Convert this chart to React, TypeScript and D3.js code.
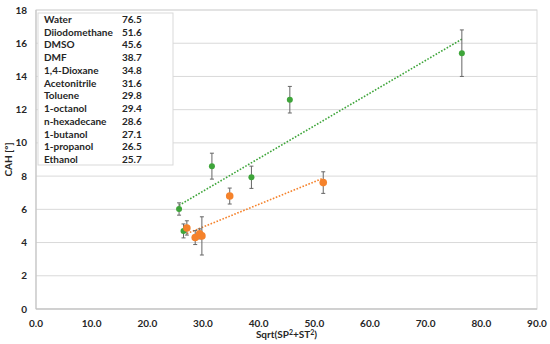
import React from "react";
import { scaleLinear, line, mean, sum } from "d3";

// legend table
const solvents = ["Water", "Diiodomethane", "DMSO", "DMF", "1,4-Dioxane", "Acetonitrile", "Toluene", "1-octanol", "n-hexadecane", "1-butanol", "1-propanol", "Ethanol"];
const solventValues = [76.5, 51.6, 45.6, 38.7, 34.8, 31.6, 29.8, 29.4, 28.6, 27.1, 26.5, 25.7];

// green series
const greenX = [76.5, 45.6, 38.7, 31.6, 25.7, 26.5];
const greenY = [15.4, 12.6, 7.93, 8.6, 6.02, 4.7];
const greenErr = [1.4, 0.8, 0.67, 0.78, 0.37, 0.42];

// orange series
const orangeX = [51.6, 34.8, 27.1, 28.6, 29.4, 29.8];
const orangeY = [7.61, 6.8, 4.88, 4.3, 4.52, 4.4];
const orangeErr = [0.65, 0.48, 0.43, 0.42, 0.3, 1.15];

const xTicks = [0, 10, 20, 30, 40, 50, 60, 70, 80, 90];
const yTicks = [0, 2, 4, 6, 8, 10, 12, 14, 16, 18];

const W = 550;
const H = 344;
const margin = { top: 10, right: 13, bottom: 35, left: 36 };

const GREEN = "#3ea53a";
const ORANGE = "#f5822b";
const TEXT = "#262626";
const FONT = "Lato, 'Open Sans', sans-serif";

function fit(xs: number[], ys: number[]) {
  const mx = mean(xs) ?? 0;
  const my = mean(ys) ?? 0;
  const sxy = sum(xs, (x, i) => (x - mx) * (ys[i] - my));
  const sxx = sum(xs, (x) => (x - mx) * (x - mx));
  const slope = sxy / sxx;
  const x0 = Math.min(...xs);
  const x1 = Math.max(...xs);
  return [
    [x0, my + slope * (x0 - mx)],
    [x1, my + slope * (x1 - mx)],
  ] as [number, number][];
}

export default function App() {
  const x = scaleLinear().domain([0, 90]).range([margin.left, W - margin.right]);
  const y = scaleLinear().domain([0, 18]).range([H - margin.bottom, margin.top]);
  const path = line<[number, number]>()
    .x((d) => x(d[0]))
    .y((d) => y(d[1]));

  const series = [
    { xs: greenX, ys: greenY, errs: greenErr, color: GREEN, r: 3 },
    { xs: orangeX, ys: orangeY, errs: orangeErr, color: ORANGE, r: 3.8 },
  ];

  const rowH = 12.73;
  const legendTop = 13;
  const fs = 10;

  return (
    <svg width={W} height={H} style={{ position: "absolute", left: 0, top: 0, background: "#fff" }} fontFamily={FONT}>
      {/* gridlines */}
      {yTicks.map((t) => (
        <line key={t} x1={x(0)} x2={x(90)} y1={y(t)} y2={y(t)} stroke="#d9d9d9" strokeWidth={1} />
      ))}
      {/* plot border */}
      <rect x={x(0)} y={y(18)} width={x(90) - x(0)} height={y(0) - y(18)} fill="none" stroke="#d9d9d9" />
      <line x1={x(0)} x2={x(0)} y1={y(18)} y2={y(0)} stroke="#bfbfbf" />
      <line x1={x(0)} x2={x(90)} y1={y(0)} y2={y(0)} stroke="#bfbfbf" />

      {/* tick labels */}
      {yTicks.map((t) => (
        <text key={t} x={x(0) - 9} y={y(t)} dy="0.35em" textAnchor="end" fontSize={fs} fontWeight="bold" fill={TEXT}>
          {t}
        </text>
      ))}
      {xTicks.map((t) => (
        <text key={t} x={x(t)} y={y(0) + 14} dy="0.35em" textAnchor="middle" fontSize={fs} fontWeight="bold" fill={TEXT}>
          {t.toFixed(1)}
        </text>
      ))}

      {/* axis titles */}
      <text x={(x(0) + x(90)) / 2} y={H - 10} dy="0.35em" textAnchor="middle" fontSize={fs} fontWeight="bold" fill={TEXT}>
        Sqrt(SP<tspan dy="-3" fontSize={7}>2</tspan><tspan dy="3">+ST</tspan><tspan dy="-3" fontSize={7}>2</tspan><tspan dy="3">)</tspan>
      </text>
      <text transform={`translate(8,${(y(0) + y(18)) / 2}) rotate(-90)`} dy="0.35em" textAnchor="middle" fontSize={fs} fontWeight="bold" fill={TEXT}>
        CAH [°]
      </text>

      {/* trend lines */}
      {series.map((s, i) => (
        <path key={i} d={path(fit(s.xs, s.ys)) ?? ""} fill="none" stroke={s.color} strokeWidth={1.6} strokeDasharray="1.6,1.6" />
      ))}

      {/* error bars and points */}
      {series.map((s, i) => (
        <g key={i}>
          {s.xs.map((v, j) => {
            const cx = x(v);
            const top = y(s.ys[j] + s.errs[j]);
            const bot = y(s.ys[j] - s.errs[j]);
            return (
              <g key={j} stroke="#666" strokeWidth={1}>
                <line x1={cx} x2={cx} y1={top} y2={bot} />
                <line x1={cx - 2} x2={cx + 2} y1={top} y2={top} />
                <line x1={cx - 2} x2={cx + 2} y1={bot} y2={bot} />
              </g>
            );
          })}
          {s.xs.map((v, j) => (
            <circle key={j} cx={x(v)} cy={y(s.ys[j])} r={s.r} fill={s.color} />
          ))}
        </g>
      ))}

      {/* legend table */}
      <rect x={38} y={legendTop} width={135} height={152} fill="#fff" stroke="#d9d9d9" />
      {solvents.map((name, i) => (
        <g key={name} fontSize={fs} fontWeight="bold" fill={TEXT}>
          <text x={44} y={legendTop + 6.5 + i * rowH} dy="0.35em">{name}</text>
          <text x={122} y={legendTop + 6.5 + i * rowH} dy="0.35em">{solventValues[i].toFixed(1)}</text>
        </g>
      ))}
    </svg>
  );
}
